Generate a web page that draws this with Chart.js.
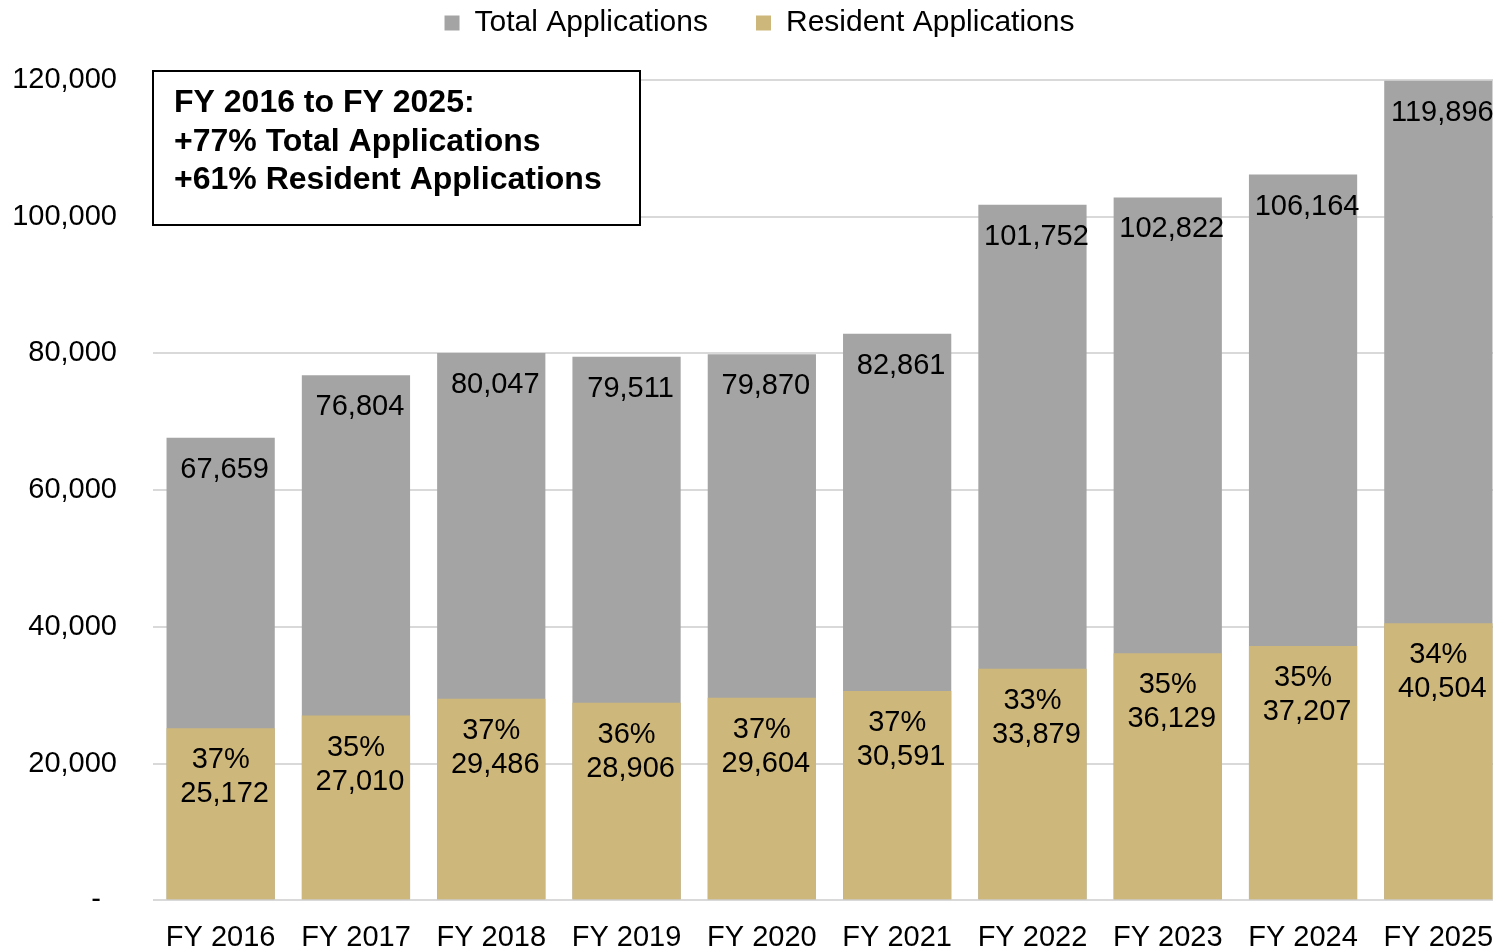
<!DOCTYPE html>
<html><head><meta charset="utf-8">
<script src="https://cdn.jsdelivr.net/npm/chart.js@4"></script>
<style>
html,body{margin:0;padding:0;overflow:hidden;background:#fff;width:1493px;height:950px}
#wrap{position:absolute;left:0;top:0;width:1506px;height:955px}
</style>
</head><body><div id="wrap"><canvas id="c"></canvas></div>
<script>
const categories = ['FY 2016','FY 2017','FY 2018','FY 2019','FY 2020','FY 2021','FY 2022','FY 2023','FY 2024','FY 2025'];
const totalApplications = [67659,76804,80047,79511,79870,82861,101752,102822,106164,119896];
const residentApplications = [25172,27010,29486,28906,29604,30591,33879,36129,37207,40504];
const residentShareLabels = ['37%','35%','37%','36%','37%','37%','33%','35%','35%','34%'];
const yTickValues = [0,20000,40000,60000,80000,100000,120000];
const calloutLines = ['FY 2016 to FY 2025:','+77% Total Applications','+61% Resident Applications'];

const FONT = '"Liberation Sans", Arial, Helvetica, sans-serif';
const fmt = v => v.toLocaleString('en-US');

const legendSpace = {
  id: 'legendSpace',
  beforeInit(chart) {
    const lg = chart.legend;
    if (!lg) return;
    const orig = lg.fit;
    lg.fit = function () { orig.call(this); this.height = 120; };
  }
};

const labelPlugin = {
  id: 'barLabels',
  afterDatasetsDraw(chart) {
    const ctx = chart.ctx;
    const mt = chart.getDatasetMeta(0), mr = chart.getDatasetMeta(1);
    ctx.save();
    ctx.font = '29px ' + FONT;
    ctx.fillStyle = '#000';
    ctx.textAlign = 'center';
    ctx.textBaseline = 'middle';
    mt.data.forEach((bar, i) => {
      ctx.fillText(fmt(totalApplications[i]), bar.x + 4, bar.y + 32);
    });
    mr.data.forEach((bar, i) => {
      ctx.fillText(residentShareLabels[i], bar.x, bar.y + 32);
      ctx.fillText(fmt(residentApplications[i]), bar.x + 4, bar.y + 66);
    });
    ctx.restore();
  }
};

const calloutPlugin = {
  id: 'callout',
  afterDraw(chart) {
    const ctx = chart.ctx, a = chart.chartArea;
    const left = a.left, top = a.top - 9, w = 487, h = 154;
    ctx.save();
    ctx.fillStyle = '#fff';
    ctx.fillRect(left, top, w, h);
    ctx.strokeStyle = '#000';
    ctx.lineWidth = 2;
    ctx.strokeRect(left, top, w, h);
    ctx.fillStyle = '#000';
    ctx.font = 'bold 32px ' + FONT;
    ctx.textAlign = 'left';
    ctx.textBaseline = 'middle';
    const offs = [32, 71, 109];
    calloutLines.forEach((t, i) => ctx.fillText(t, left + 21, top + offs[i]));
    ctx.restore();
  }
};

new Chart(document.getElementById('c'), {
  type: 'bar',
  data: {
    labels: categories,
    datasets: [
      { label: 'Total Applications', data: totalApplications, backgroundColor: '#A3A4A3', order: 2, grouped: false, barPercentage: 0.8, categoryPercentage: 1 },
      { label: 'Resident Applications', data: residentApplications, backgroundColor: '#CEB77B', order: 1, grouped: false, barPercentage: 0.8, categoryPercentage: 1 }
    ]
  },
  options: {
    responsive: true,
    maintainAspectRatio: false,
    animation: false,
    layout: { padding: { left: 13, top: -40, right: 0, bottom: 0 } },
    plugins: {
      tooltip: { enabled: false },
      legend: {
        position: 'top',
        labels: {
          font: { family: FONT, size: 30 },
          color: '#000',
          boxWidth: 15, boxHeight: 15,
          padding: 48,
          sort: (a, b) => a.datasetIndex - b.datasetIndex
        }
      }
    },
    scales: {
      x: {
        grid: { display: false, drawTicks: true, tickLength: 20 },
        border: { display: false },
        ticks: { font: { family: FONT, size: 29 }, color: '#000', padding: 0, maxRotation: 0 }
      },
      y: {
        min: 0, max: 120000,
        afterBuildTicks: s => { s.ticks = yTickValues.map(v => ({ value: v })); },
        afterFit: s => { s.width = 140; },
        grid: { color: '#D9D9D9', lineWidth: 2, drawTicks: false },
        border: { display: false },
        ticks: {
          font: { family: FONT, size: 29 }, color: '#000', padding: 36,
          callback: v => v === 0 ? '-  ' : fmt(v)
        }
      }
    }
  },
  plugins: [legendSpace, labelPlugin, calloutPlugin]
});
</script>
</body></html>
